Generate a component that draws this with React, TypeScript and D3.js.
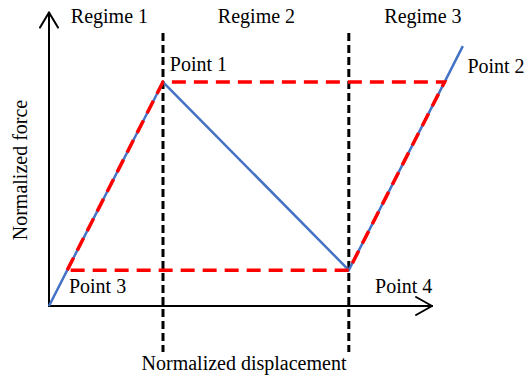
import React from "react";
import * as d3 from "d3";

// Normalized displacement / force coordinates of the response paths
const responseX = [0, 1, 2.63, 3.63];
const responseY = [0, 1, 0.16, 1.16];
const envelopeX = [0.16, 1, 3.47, 2.63, 0.16];
const envelopeY = [0.16, 1, 1, 0.16, 0.16];
const regimeBoundaries = [1, 2.63];
const regimeLabels = ["Regime 1", "Regime 2", "Regime 3"];
const regimeCenters = [0.53, 1.82, 3.28];
const pointLabels = ["Point 1", "Point 2", "Point 3", "Point 4"];
const pointLabelX = [1.06, 3.67, 0.175, 2.86];
const pointLabelY = [1.05, 1.04, 0.058, 0.058];
const axisTitles = ["Normalized displacement", "Normalized force"];

const W = 524;
const H = 377;
const FONT = "Liberation Serif";

export default function App() {
  const x = d3.scaleLinear().domain([0, 1]).range([49, 163]);
  const y = d3.scaleLinear().domain([0, 1]).range([306, 82]);

  const line = d3
    .line<[number, number]>()
    .x((d) => x(d[0]))
    .y((d) => y(d[1]));

  const response = line(responseX.map((v, i) => [v, responseY[i]]));
  const envelope = line(envelopeX.map((v, i) => [v, envelopeY[i]]));

  const x0 = x(0);
  const y0 = y(0);
  const xEnd = x(3.36);
  const yEnd = y(1.31);

  return (
    <svg
      width={W}
      height={H}
      style={{ position: "absolute", left: 0, top: 0, background: "#fff", overflow: "visible" }}
    >
      {/* regime boundaries */}
      {regimeBoundaries.map((b, i) => (
        <line
          key={i}
          x1={x(b)}
          x2={x(b)}
          y1={33}
          y2={352}
          stroke="#000"
          strokeWidth={3}
          strokeDasharray="8 4"
        />
      ))}

      {/* axes with open arrowheads */}
      <g stroke="#000" strokeWidth={2} fill="none" strokeLinecap="round" strokeLinejoin="round">
        <line x1={x0} y1={y0} x2={x0} y2={yEnd} />
        <line x1={x0} y1={y0} x2={xEnd} y2={y0} />
        <polyline points={`${x0 - 9},${yEnd + 15} ${x0},${yEnd} ${x0 + 9},${yEnd + 15}`} />
        <polyline points={`${xEnd - 16},${y0 - 9} ${xEnd},${y0} ${xEnd - 16},${y0 + 9}`} />
      </g>

      {/* response path */}
      <path d={response ?? ""} fill="none" stroke="#4472C4" strokeWidth={2.5} strokeLinejoin="miter" />

      {/* idealized envelope */}
      <path
        d={envelope ?? ""}
        fill="none"
        stroke="#FF0000"
        strokeWidth={3.5}
        strokeDasharray="14 8"
      />

      {regimeLabels.map((t, i) => (
        <text key={t} fontFamily={FONT} fontSize={20} x={x(regimeCenters[i])} y={23} textAnchor="middle">
          {t}
        </text>
      ))}
      {pointLabels.map((t, i) => (
        <text key={t} fontFamily={FONT} fontSize={20} x={x(pointLabelX[i])} y={y(pointLabelY[i])}>
          {t}
        </text>
      ))}
      <text fontFamily={FONT} fontSize={20} x={244} y={370} textAnchor="middle">
        {axisTitles[0]}
      </text>
      <text fontFamily={FONT} fontSize={20} transform="translate(27,170) rotate(-90)" textAnchor="middle">
        {axisTitles[1]}
      </text>
    </svg>
  );
}
